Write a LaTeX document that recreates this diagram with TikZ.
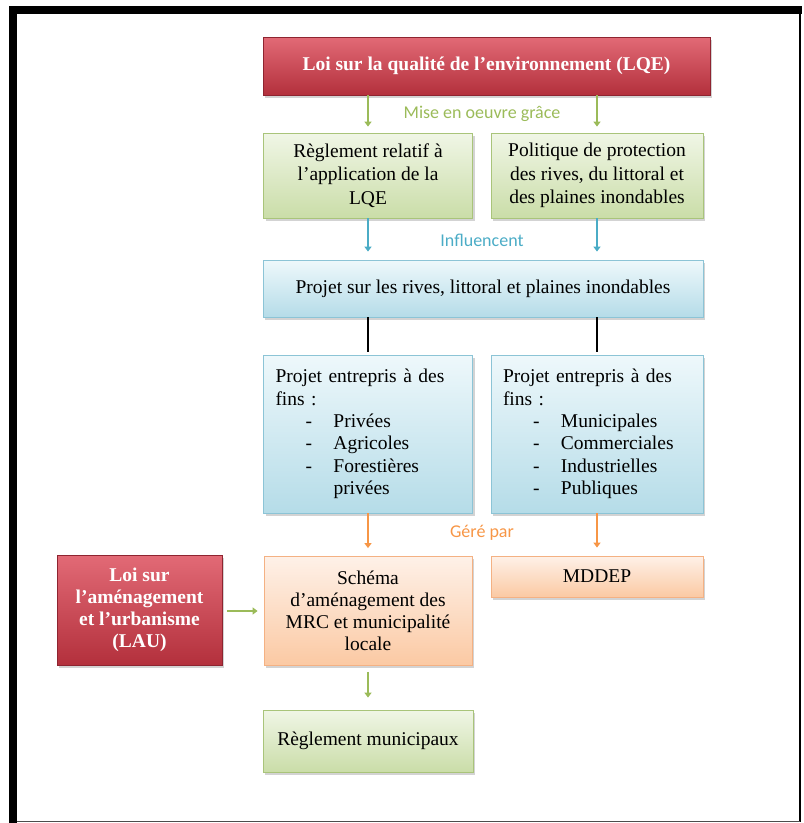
\documentclass[tikz,border=0pt]{standalone}
\usepackage{fontspec}
\setmainfont{Liberation Serif}
\newfontfamily\lblfont{Carlito}
\usetikzlibrary{arrows.meta,shadows}
\definecolor{redA}{HTML}{E26A76}
\definecolor{redB}{HTML}{B3303C}
\definecolor{redD}{HTML}{8E2430}
\definecolor{grnA}{HTML}{F0F6E6}
\definecolor{grnB}{HTML}{CADDA8}
\definecolor{grnD}{HTML}{A9C47A}
\definecolor{grnL}{HTML}{9BBB59}
\definecolor{bluA}{HTML}{EEF8FB}
\definecolor{bluB}{HTML}{B5DCE8}
\definecolor{bluD}{HTML}{8CC4D6}
\definecolor{bluL}{HTML}{4BACC6}
\definecolor{orA}{HTML}{FEF1E8}
\definecolor{orB}{HTML}{FBC9A3}
\definecolor{orD}{HTML}{F4B183}
\definecolor{orL}{HTML}{F79646}
\tikzset{
  box/.style={rectangle, inner sep=3pt, line width=0.8pt,
    font=\fontsize{19.5}{23.5}\selectfont,
    drop shadow={shadow xshift=2pt, shadow yshift=-2.5pt, opacity=0.35}},
  redbox/.style={box, draw=redD, top color=redA, bottom color=redB,
    text=white, font=\fontsize{19.5}{22}\selectfont\bfseries},
  grnbox/.style={box, draw=grnD, top color=grnA, bottom color=grnB, align=center},
  blubox/.style={box, draw=bluD, top color=bluA, bottom color=bluB},
  orbox/.style={box, draw=orD, top color=orA, bottom color=orB, align=center},
  garrow/.style={draw=grnL, line width=1.8pt, -{Triangle[width=7pt,length=5pt]}},
  barrow/.style={draw=bluL, line width=1.8pt, -{Triangle[width=7pt,length=5pt]}},
  oarrow/.style={draw=orL, line width=1.8pt, -{Triangle[width=7pt,length=5pt]}},
  kline/.style={draw=black, line width=1.5pt},
  lbl/.style={font=\lblfont\fontsize{18}{20}\selectfont}
}
\newcommand\itm[1]{\hspace*{30pt}\makebox[28pt][l]{-}#1}
\newcommand\itc[1]{\hspace*{58pt}#1}
\begin{document}
\begin{tikzpicture}[x=1pt,y=-1pt]
\useasboundingbox (0,0) rectangle (804,823);
% frame
\fill[black] (9,6) rectangle (17,823);
\fill[black] (9,6) rectangle (802,14);
\draw[black, line width=2pt] (800,14) -- (800,822);
\draw[black!70, line width=1pt] (17,821.5) -- (800,821.5);

\node[redbox, minimum width=447, minimum height=58] (lqe) at (486.5,66)
  {Loi sur la qualité de l’environnement (LQE)};
\node[grnbox, minimum width=209, minimum height=85] (g1) at (368,175.5)
  {Règlement relatif à\\ l’application de la\\ LQE};
\node[grnbox, minimum width=212, minimum height=85] (g2) at (597,175.5)
  {Politique de protection\\ des rives, du littoral et\\ des plaines inondables};
\node[box, draw=bluD, top color=bluA, bottom color=bluB, minimum width=440, minimum height=57] (pr) at (483,288.5)
  {Projet sur les rives, littoral et plaines inondables};
\node[blubox, minimum width=209, minimum height=158, inner xsep=12pt, text width=185, align=left,
  font=\fontsize{19.5}{22.4}\selectfont] (b1) at (368,434)
  {Projet entrepris à des\\ fins :\\ \itm{Privées}\\ \itm{Agricoles}\\ \itm{Forestières}\\ \itc{privées}};
\node[blubox, minimum width=212, minimum height=158, inner xsep=12pt, text width=188, align=left,
  font=\fontsize{19.5}{22.4}\selectfont] (b2) at (597,434)
  {Projet entrepris à des\\ fins :\\ \itm{Municipales}\\ \itm{Commerciales}\\ \itm{Industrielles}\\ \itm{Publiques}};
\node[orbox, minimum width=208, minimum height=109, font=\fontsize{19.5}{22}\selectfont] (o1) at (368,611)
  {Schéma\\ d’aménagement des\\ MRC et municipalité\\ locale};
\node[orbox, minimum width=212, minimum height=41] (o2) at (597,576.5) {MDDEP};
\node[redbox, minimum width=165, minimum height=110, align=center] (lau) at (139.5,610)
  {Loi sur\\ l’aménagement\\ et l’urbanisme\\ (LAU)};
\node[grnbox, minimum width=210, minimum height=62] (g3) at (368,741)
  {Règlement municipaux};

% connectors
\draw[garrow, shorten >=6pt] (lqe.south -| g1.north) -- (g1.north);
\draw[garrow, shorten >=6pt] (lqe.south -| g2.north) -- (g2.north);
\node[lbl, text=grnL] (l1) at (482,114) {Mise en oeuvre grâce};
\draw[barrow, shorten >=8pt] (g1.south) -- (pr.north -| g1.south);
\draw[barrow, shorten >=8pt] (g2.south) -- (pr.north -| g2.south);
\node[lbl, text=bluL] (l2) at (482,240) {Influencent};
\draw[kline, shorten >=3pt] (pr.south -| b1.north) -- (b1.north);
\draw[kline, shorten >=3pt] (pr.south -| b2.north) -- (b2.north);
\draw[oarrow, shorten >=8pt] (b1.south) -- (o1.north);
\draw[oarrow, shorten >=8pt] (b2.south) -- (o2.north);
\node[lbl, text=orL] (l3) at (482,533) {Géré par};
\draw[garrow, shorten <=5pt, shorten >=6pt] (lau.east |- o1.west) -- (o1.west);
\draw[garrow, shorten <=6pt, shorten >=12pt] (o1.south) -- (g3.north);
\end{tikzpicture}
\end{document}
